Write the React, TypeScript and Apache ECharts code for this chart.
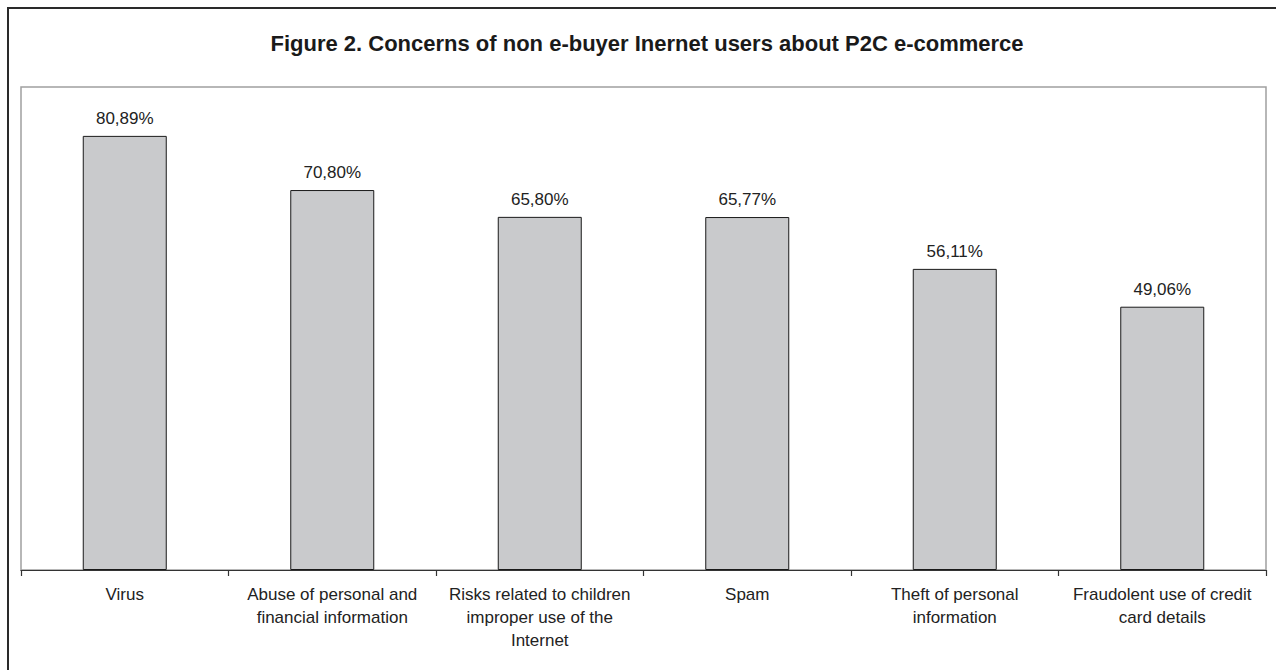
import React, { useEffect, useRef } from "react";
import * as echarts from "echarts";

const titleText = "Figure 2. Concerns of non e-buyer Inernet users about P2C e-commerce";
const categories = [
  "Virus",
  "Abuse of personal and\nfinancial information",
  "Risks related to children\nimproper use of the\nInternet",
  "Spam",
  "Theft of personal\ninformation",
  "Fraudolent use of credit\ncard details",
];
const values = [80.89, 70.8, 65.8, 65.77, 56.11, 49.06];

const FONT = "'Liberation Sans', Arial, sans-serif";

export default function App() {
  const ref = useRef<HTMLDivElement>(null);
  useEffect(() => {
    if (!ref.current) return;
    const chart = echarts.init(ref.current, null, { renderer: "svg" });
    chart.setOption({
      animation: false,
      backgroundColor: "#ffffff",
      title: {
        text: titleText,
        left: 642,
        textAlign: "center",
        top: 27,
        textStyle: { fontFamily: FONT, fontSize: 22, fontWeight: "bold", color: "#1a1a1a" },
      },
      graphic: [
        {
          type: "rect",
          shape: { x: 8, y: 8, width: 1320, height: 720 },
          style: { fill: "none", stroke: "#2a2a2a", lineWidth: 2 },
          silent: true,
        },
      ],
      grid: {
        left: 21,
        right: 10,
        top: 87,
        bottom: 100,
        show: true,
        borderColor: "#a0a0a0",
        borderWidth: 1.5,
        backgroundColor: "transparent",
      },
      xAxis: {
        type: "category",
        data: categories,
        axisLine: { show: true, lineStyle: { color: "#333333", width: 1.2 } },
        axisTick: { show: true, length: 6, lineStyle: { color: "#333333", width: 1.2 } },
        axisLabel: {
          interval: 0,
          margin: 13,
          fontFamily: FONT,
          fontSize: 17,
          lineHeight: 23,
          color: "#222222",
          align: "center",
        },
        splitLine: { show: false },
      },
      yAxis: {
        type: "value",
        min: 0,
        max: 90,
        show: false,
        splitLine: { show: false },
      },
      series: [
        {
          type: "bar",
          data: values,
          barWidth: 84,
          itemStyle: { color: "#c9cacc", borderColor: "#1a1a1a", borderWidth: 1 },
          label: {
            show: true,
            position: "top",
            distance: 9,
            fontFamily: FONT,
            fontSize: 17,
            color: "#222222",
            formatter: (p: any) => p.value.toFixed(2).replace(".", ",") + "%",
          },
        },
      ],
    });
    return () => chart.dispose();
  }, []);
  return (
    <div
      ref={ref}
      style={{ position: "absolute", left: 0, top: 0, width: 1276, height: 670 }}
    />
  );
}
